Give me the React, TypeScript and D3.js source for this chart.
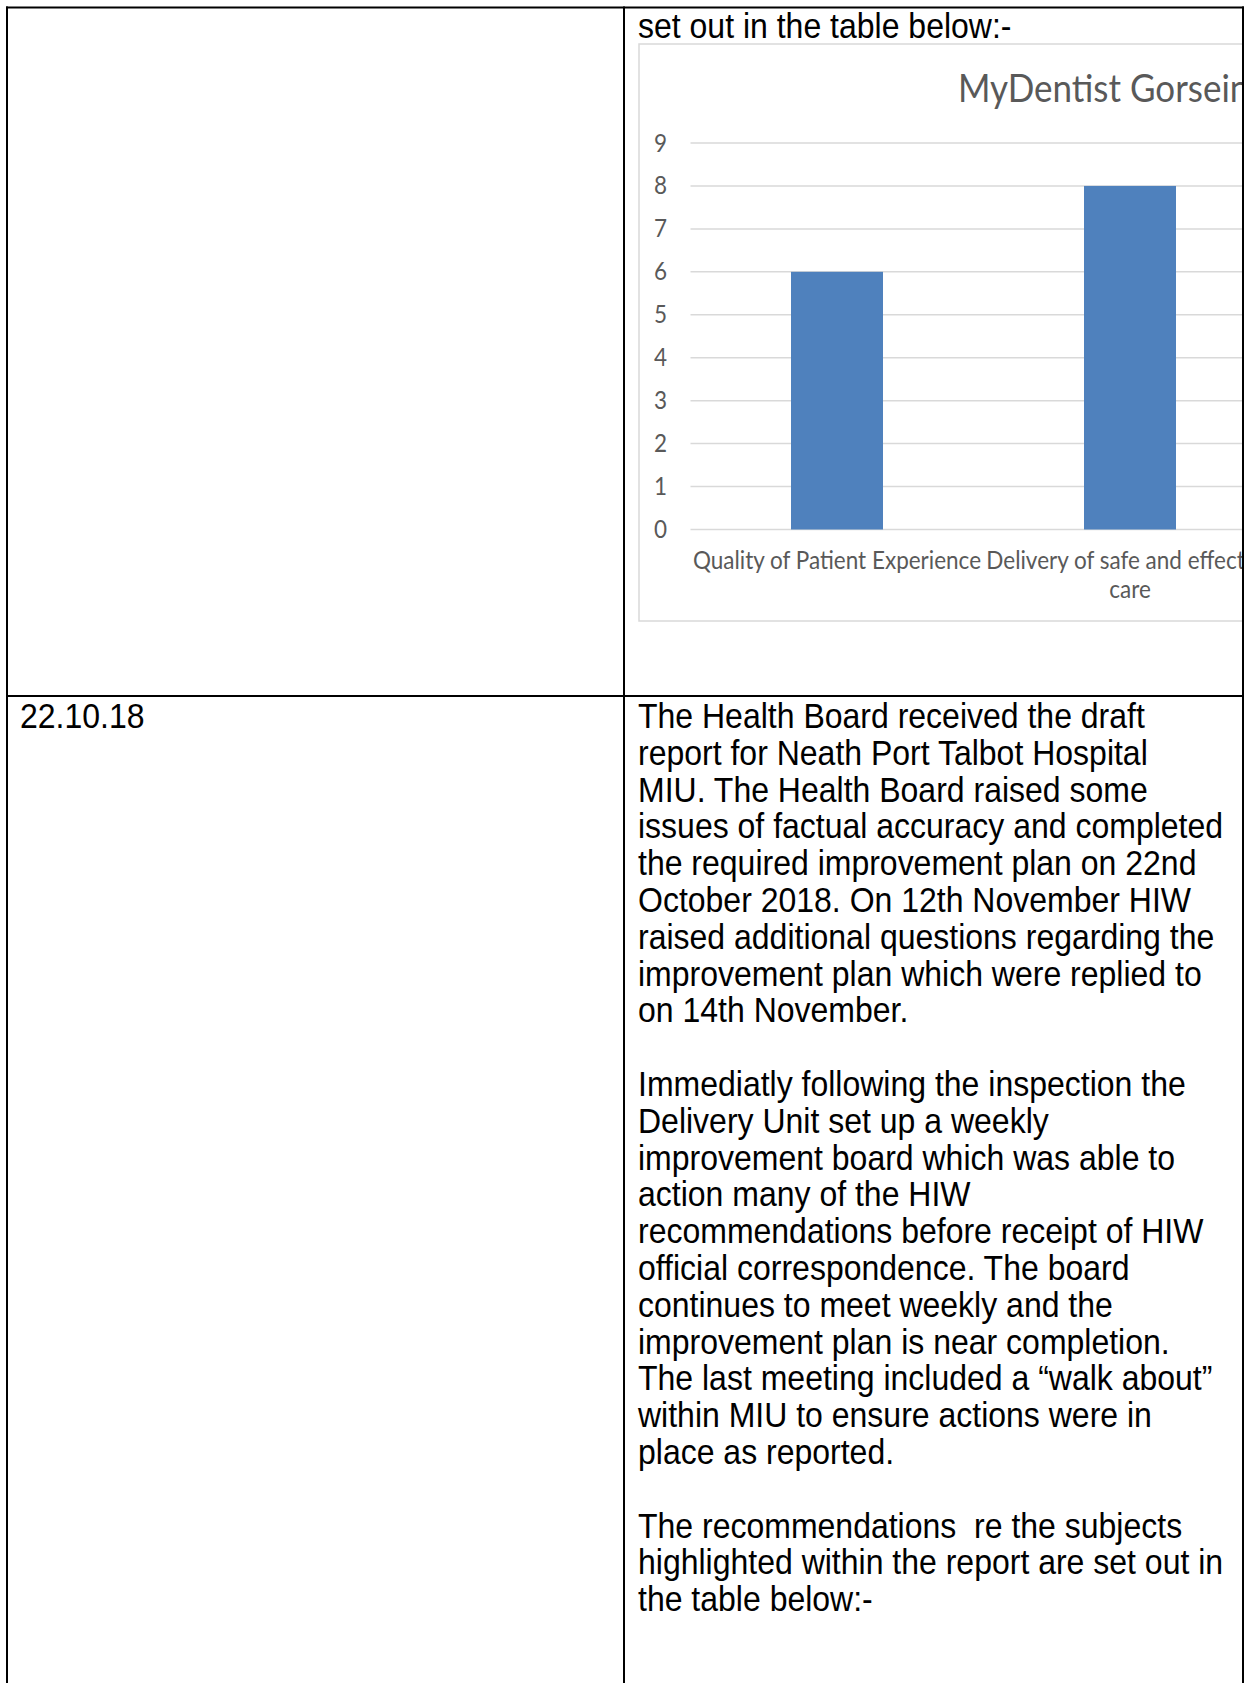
import React from "react";
import * as d3 from "d3";

const categories: string[][] = [
  ["Quality of Patient Experience"],
  ["Delivery of safe and effective", "care"],
];
const values: number[] = [6, 8];
const yTicks: number[] = [0, 1, 2, 3, 4, 5, 6, 7, 8, 9];
const chartTitle = "MyDentist Gorseinon";
const topText = "set out in the table below:-";
const dateText = "22.10.18";
const bodyLines: string[] = [
  "The Health Board received the draft",
  "report for Neath Port Talbot Hospital",
  "MIU. The Health Board raised some",
  "issues of factual accuracy and completed",
  "the required improvement plan on 22nd",
  "October 2018. On 12th November HIW",
  "raised additional questions regarding the",
  "improvement plan which were replied to",
  "on 14th November.",
  "",
  "Immediatly following the inspection the",
  "Delivery Unit set up a weekly",
  "improvement board which was able to",
  "action many of the HIW",
  "recommendations before receipt of HIW",
  "official correspondence. The board",
  "continues to meet weekly and the",
  "improvement plan is near completion.",
  "The last meeting included a \u201Cwalk about\u201D",
  "within MIU to ensure actions were in",
  "place as reported.",
  "",
  "The recommendations  re the subjects",
  "highlighted within the report are set out in",
  "the table below:-",
];

const W = 1244;
const H = 1683;
const docFont = "'Liberation Sans', Arial, sans-serif";
const chartFont = "Lato, 'Open Sans', sans-serif";
const grey = "#595959";
const STRETCH = 1.08;

function T(props: {
  x: number;
  y: number;
  size: number;
  font: string;
  fill: string;
  anchor?: string;
  children: React.ReactNode;
}) {
  return (
    <g transform={`translate(${props.x},${props.y}) scale(1,${STRETCH})`}>
      <text
        x={0}
        y={0}
        textAnchor={props.anchor || "start"}
        fontFamily={props.font}
        fontSize={props.size}
        fill={props.fill}
        style={{ whiteSpace: "pre" }}
      >
        {props.children}
      </text>
    </g>
  );
}

export default function App() {
  const x = d3
    .scaleBand<number>()
    .domain(values.map((_, i) => i))
    .range([690.5, 1276.5])
    .paddingInner(0.686)
    .paddingOuter(0.343);
  const y = d3.scaleLinear().domain([0, 9]).range([529.5, 143]);

  return (
    <div style={{ position: "absolute", left: 0, top: 0, width: W, height: H, background: "#fff" }}>
      <svg width={W} height={H} style={{ display: "block" }}>
        <defs>
          <clipPath id="cellClip">
            <rect x={625} y={0} width={1242 - 625} height={695} />
          </clipPath>
        </defs>
        <rect x={0} y={0} width={W} height={H} fill="#fff" />

        {/* top cell text */}
        <T x={638} y={38} size={32} font={docFont} fill="#000">
          {topText}
        </T>

        {/* chart */}
        <g clipPath="url(#cellClip)">
          <rect x={639} y={44} width={800} height={577} fill="#fff" stroke="#d9d9d9" strokeWidth={1.5} />
          <T x={958} y={102} size={35} font={chartFont} fill={grey}>
            {chartTitle}
          </T>
          {yTicks.map((t) => (
            <g key={t}>
              <line x1={690.5} x2={1300} y1={y(t)} y2={y(t)} stroke="#d9d9d9" strokeWidth={1.5} />
              <T x={667} y={y(t) + 8.5} anchor="end" size={22.5} font={chartFont} fill={grey}>
                {t}
              </T>
            </g>
          ))}
          {values.map((v, i) => (
            <rect
              key={i}
              x={x(i)}
              y={y(v)}
              width={x.bandwidth()}
              height={y(0) - y(v)}
              fill="#4f81bd"
            />
          ))}
          {categories.map((lines, i) =>
            lines.map((l, j) => (
              <T
                key={i + "-" + j}
                x={(x(i) as number) + x.bandwidth() / 2}
                y={569 + j * 29}
                anchor="middle"
                size={22.5}
                font={chartFont}
                fill={grey}
              >
                {l}
              </T>
            ))
          )}
        </g>

        {/* second row */}
        <T x={20} y={728} size={32} font={docFont} fill="#000">
          {dateText}
        </T>
        {bodyLines.map((l, i) => (
          <T key={i} x={638} y={728 + i * 36.8} size={32} font={docFont} fill="#000">
            {l}
          </T>
        ))}

        {/* table borders */}
        <g stroke="#000" strokeWidth={2}>
          <line x1={6} x2={1244} y1={7.5} y2={7.5} />
          <line x1={7} x2={7} y1={6.5} y2={H} />
          <line x1={1243} x2={1243} y1={6.5} y2={H} />
          <line x1={624} x2={624} y1={6.5} y2={H} />
          <line x1={6} x2={1244} y1={696} y2={696} />
        </g>
      </svg>
    </div>
  );
}
